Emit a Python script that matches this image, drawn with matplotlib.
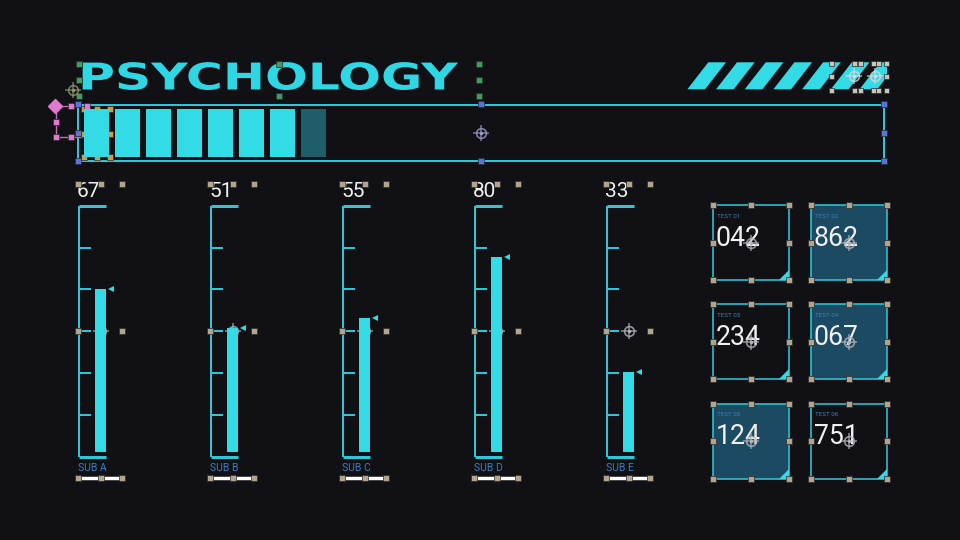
import matplotlib
matplotlib.use("Agg")
import matplotlib.pyplot as plt
from matplotlib.patches import Rectangle, Polygon
from matplotlib.patheffects import AbstractPathEffect
from matplotlib.transforms import Affine2D

# ---------------- data ----------------
title = "PSYCHOLOGY"
subjects = ["SUB A", "SUB B", "SUB C", "SUB D", "SUB E"]
scores = [67, 51, 55, 80, 33]
score_max = 100
tests = ["TEST 01", "TEST 02", "TEST 03", "TEST 04", "TEST 05", "TEST 06"]
test_values = ["042", "862", "234", "067", "124", "751"]
test_highlight = [False, True, False, True, True, False]
progress_done = 7
progress_pending = 1

# ---------------- style ----------------
BG = "#111015"
CYAN = "#33dbe6"
LINE = "#2cc6d6"
DIM = "#1d5e69"
TILE = "#1c4a62"
LABEL = "#3a7fbf"
HANDLE = "#b3a58d"
WHITE = "#f0f0f0"
NUMFONT = ["Roboto", "DejaVu Sans"]
PX = 0.72  # points per pixel at dpi 100


class HStretch(AbstractPathEffect):
    def __init__(self, sx, x0):
        super().__init__()
        self.sx = sx
        self.x0 = x0

    def draw_path(self, renderer, gc, tpath, affine, rgbFace=None):
        t = affine + Affine2D().translate(-self.x0, 0).scale(self.sx, 1).translate(self.x0, 0)
        renderer.draw_path(gc, tpath, t, rgbFace)


fig = plt.figure(figsize=(9.6, 5.4), dpi=100, facecolor=BG)
bg = fig.add_axes([0, 0, 1, 1])
bg.set_xlim(0, 960)
bg.set_ylim(540, 0)
bg.axis("off")


def handle(x, y, c=HANDLE, s=6, z=20):
    bg.add_patch(Rectangle((x - s / 2, y - s / 2), s, s, fc=c, ec="#2a2a2a", lw=0.5, zorder=z))


def cross(x, y, c="#b4b4bc"):
    bg.plot(x, y, marker="+", ms=12, mew=1.1, color=c, alpha=0.75, zorder=21)
    bg.plot(x, y, marker="o", ms=7, mfc="none", mec=c, mew=1.2, alpha=0.8, zorder=22)
    bg.plot(x, y, marker="o", ms=1.5, color=c, zorder=23)


# ---------------- title ----------------
t = bg.text(78, 89.5, title, fontsize=26.6, fontweight="bold", family="DejaVu Sans",
            color="#2fd6e3", ha="left", va="baseline")
fig.canvas.draw()
bb = t.get_window_extent()
t.set_path_effects([HStretch((457 - 78) / bb.width, bb.x0)])

for (x, y) in [(79, 64), (79, 80), (79, 96), (279, 64), (279, 96), (479, 64), (479, 80), (479, 96)]:
    handle(x, y, c="#3f9c63")
cross(73, 90, c="#8a9a6a")

# ---------------- logo stripes ----------------
clip = Rectangle((600, 40), 286.7, 70, transform=bg.transData)
for k in range(7):
    bx = 687.3 + k * 28.7
    p = Polygon([(bx, 89.3), (bx + 17.7, 89.3), (bx + 38.7, 62.3), (bx + 21, 62.3)],
                closed=True, fc=CYAN, ec="none")
    bg.add_patch(p)
    p.set_clip_path(clip)
for (x, y) in [(831, 63), (831, 76), (831, 90), (854, 63), (860, 63), (854, 90), (860, 90),
               (873, 63), (878, 63), (886, 63), (886, 76), (886, 90), (873, 90), (878, 90)]:
    handle(x, y, c="#c9c4bb", s=5)
cross(854, 76, c="#d8d8d8")
cross(875, 76, c="#d8d8d8")

# ---------------- progress bar ----------------
bg.add_patch(Rectangle((78, 104.5), 806, 56.5, fill=False, ec=LINE, lw=2 * PX))
pax = fig.add_axes([84.3 / 960, (540 - 157.3) / 540, 800 / 960, 48 / 540])
pax.set_xlim(0, 800 / 31)
pax.set_ylim(0, 1)
pax.axis("off")
pax.bar(range(progress_done), [1] * progress_done, width=25 / 31, align="edge", color=CYAN)
pax.bar([progress_done + i for i in range(progress_pending)], [1] * progress_pending,
        width=25 / 31, align="edge", color=DIM)

for (x, y) in [(78, 104), (78, 133), (78, 161), (481, 104), (481, 161), (884, 104), (884, 133), (884, 161)]:
    handle(x, y, c="#5b73d6", s=6)
cross(481, 133, c="#9a9ac8")
for (x, y) in [(84, 109), (97, 109), (110, 109), (84, 134), (110, 134), (84, 157), (97, 157), (110, 157)]:
    handle(x, y, c="#d79a3a", s=6)
cross(97, 133, c="#e0a24a")
bg.plot([56, 87, 87, 56, 56], [105.7, 105.7, 136.7, 136.7, 105.7], color="#c070b0", lw=1, zorder=19)
for (x, y) in [(71, 105.7), (87, 105.7), (56, 121.7), (56, 136.7), (71, 136.7), (87, 121.7)]:
    handle(x, y, c="#e07ad0", s=6)
bg.plot(55, 105.7, marker="D", ms=7, color="#e07ad0", zorder=22)

# ---------------- gauges ----------------
top, bottom = 205.7, 456.7
zero_y, full_y = 451.7, 208.7
for i, (name, val) in enumerate(zip(subjects, scores)):
    x0 = 79 + 132 * i
    bg.plot([x0, x0 + 26.7], [top, top], color=LINE, lw=3 * PX, solid_capstyle="butt")
    bg.plot([x0, x0 + 26.7], [bottom, bottom], color=LINE, lw=3 * PX, solid_capstyle="butt")
    bg.plot([x0, x0], [top, bottom], color=LINE, lw=2 * PX, solid_capstyle="butt")
    for k in range(1, 6):
        y = top + k * (bottom - top) / 6
        bg.plot([x0, x0 + 12], [y, y], color=LINE, lw=2 * PX, solid_capstyle="butt")

    ax = fig.add_axes([x0 / 960, (540 - zero_y) / 540, 40 / 960, (zero_y - full_y) / 540])
    ax.set_xlim(0, 40)
    ax.set_ylim(0, score_max)
    ax.axis("off")
    ax.bar(21.5, val, width=10.5, color=CYAN)
    ax.plot(31.5, val, marker="<", ms=5, color=CYAN, mew=0, clip_on=False)

    bg.text(x0 - 2, 197, f"{val}", fontsize=15, color=WHITE, family=NUMFONT,
            fontweight="normal", ha="left", va="baseline")
    bg.text(x0 - 1, 471, name, fontsize=7.5, color=LABEL, family=NUMFONT,
            ha="left", va="baseline")
    bg.plot([x0 - 1, x0 + 43], [478, 478], color="white", lw=2.5, solid_capstyle="butt")
    for dx in (-1, 21.5, 43):
        handle(x0 + dx, 478)
        handle(x0 + dx, 184)
    handle(x0 - 1, 331)
    handle(x0 + 43, 331)
    cross(x0 + 21.5, 331)

# ---------------- test tiles ----------------
w, h = 76.5, 75
for j, (lab, v, hi) in enumerate(zip(tests, test_values, test_highlight)):
    r, c = divmod(j, 2)
    tx = 712.7 + c * 98
    ty = 205 + r * 99.3
    bg.add_patch(Rectangle((tx, ty), w, h, fc=TILE if hi else "none", ec=LINE, lw=1.6 * PX))
    bg.add_patch(Polygon([(tx + w, ty + h - 10), (tx + w, ty + h), (tx + w - 10, ty + h)],
                         closed=True, fc=CYAN, ec="none"))
    bg.text(tx + 4, ty + 12.5, lab, fontsize=4.5, color=LABEL, family=NUMFONT,
            ha="left", va="baseline")
    bg.text(tx + 3, ty + 40.7, v, fontsize=19.2, color=WHITE, family=NUMFONT,
            fontweight="normal", ha="left", va="baseline")
    for (hx, hy) in [(0, 0), (w / 2, 0), (w, 0), (0, h / 2), (w, h / 2), (0, h), (w / 2, h), (w, h)]:
        handle(tx + hx, ty + hy)
    cross(tx + w / 2, ty + h / 2)

fig.savefig("out.png", dpi=100, facecolor=BG)
